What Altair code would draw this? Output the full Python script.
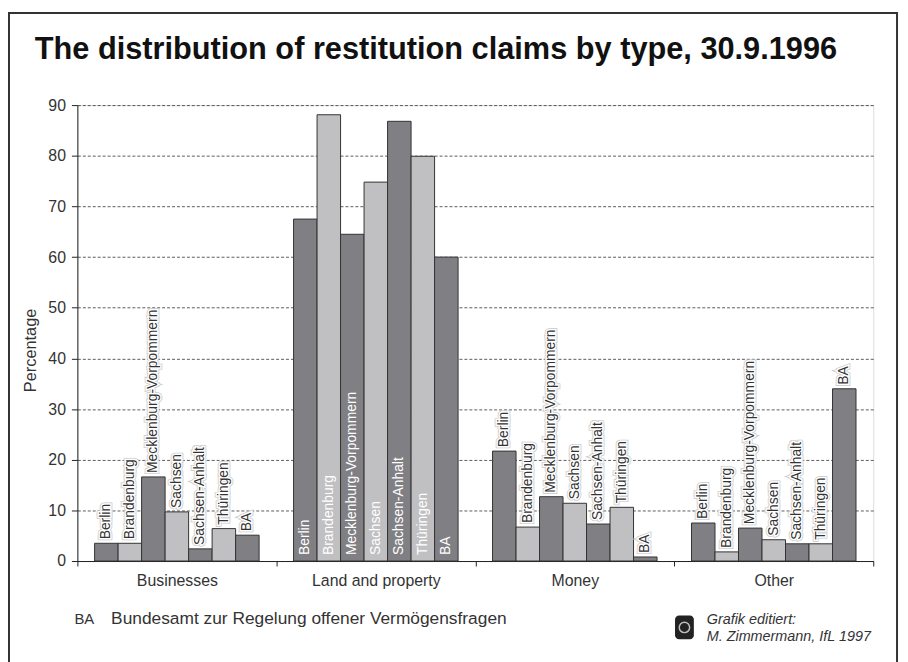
import altair as alt
import pandas as pd

types = ["Businesses", "Land and property", "Money", "Other"]
states = ["Berlin", "Brandenburg", "Mecklenburg-Vorpommern", "Sachsen",
          "Sachsen-Anhalt", "Thüringen", "BA"]
businesses = [3.5, 3.5, 16.6, 9.7, 2.4, 6.4, 5.1]
land = [67.5, 88.1, 64.5, 74.8, 86.8, 79.9, 60.0]
money = [21.7, 6.7, 12.7, 11.4, 7.3, 10.6, 0.8]
other = [7.5, 1.8, 6.5, 4.2, 3.4, 3.4, 34.0]
y_ticks = [0, 10, 20, 30, 40, 50, 60, 70, 80, 90]

title_text = "The distribution of restitution claims by type, 30.9.1996"
foot_abbr = "BA"
foot_text = "Bundesamt zur Regelung offener Vermögensfragen"
credit_lines = ["Grafik editiert:", "M. Zimmermann, IfL 1997"]

DARK = "#808084"
LIGHT = "#c0c0c2"
FONT = "Liberation Sans"

rows = []
for t, vals in zip(types, [businesses, land, money, other]):
    for s, v in zip(states, vals):
        rows.append({"type": t, "state": s, "value": v})
df = pd.DataFrame(rows)
one = pd.DataFrame({"k": [0]})

W, H = 803, 460

x_enc = alt.X("type:N", sort=types,
              scale=alt.Scale(paddingInner=0, paddingOuter=0),
              axis=alt.Axis(title=None, labelAngle=0, tickBand="extent",
                            tickSize=5, domainColor="#222", tickColor="#222",
                            labelFontSize=16, labelColor="#333",
                            labelFont=FONT, labelPadding=7))
xo_enc = alt.XOffset("state:N", sort=states,
                     scale=alt.Scale(paddingInner=0, paddingOuter=0.733))
y_enc = alt.Y("value:Q", scale=alt.Scale(domain=[0, 90], nice=False),
              axis=alt.Axis(values=y_ticks, title="Percentage", grid=True,
                            gridDash=[3, 2], gridColor="#333", gridWidth=0.8,
                            domainColor="#222", tickColor="#222", tickSize=6,
                            labelFontSize=16, labelColor="#333", labelFont=FONT,
                            labelPadding=6, titleFont=FONT, titleFontSize=16.5,
                            titleFontWeight="normal", titleColor="#333",
                            titleX=-39, titleY=247))
color_enc = alt.Color("state:N", sort=states,
                      scale=alt.Scale(domain=states,
                                      range=[DARK, LIGHT, DARK, LIGHT, DARK, LIGHT, DARK]),
                      legend=None)

base = alt.Chart(df)

frame = alt.Chart(one).mark_rect(fill="white", fillOpacity=0, stroke="#333",
                                 strokeWidth=2).encode(
    x=alt.value(-69), x2=alt.value(827), y=alt.value(-93), y2=alt.value(600))

bars = base.mark_bar(stroke="#333", strokeWidth=1).encode(
    x=x_enc, xOffset=xo_enc, y=y_enc, color=color_enc)

lab_x = alt.X("type:N", sort=types)
lab_xo = alt.XOffset("state:N", sort=states)

others = base.transform_filter(alt.datum.type != "Land and property")
halo_outer = others.mark_text(angle=270, align="left", baseline="middle", dx=4,
                              fontSize=14, font=FONT, stroke="#c8c8c8",
                              strokeWidth=4.5, fill="white").encode(
    x=lab_x, xOffset=lab_xo, y=alt.Y("value:Q"), text="state:N")
halo = others.mark_text(angle=270, align="left", baseline="middle", dx=4,
                        fontSize=14, font=FONT, stroke="white", strokeWidth=3,
                        fill="white").encode(
    x=lab_x, xOffset=lab_xo, y=alt.Y("value:Q"), text="state:N")
labels = others.mark_text(angle=270, align="left", baseline="middle", dx=4,
                          fontSize=14, font=FONT, color="#333").encode(
    x=lab_x, xOffset=lab_xo, y=alt.Y("value:Q"), text="state:N")
land_labels = base.transform_filter(alt.datum.type == "Land and property").mark_text(
    angle=270, align="left", baseline="middle", dx=6, fontSize=14, font=FONT,
    color="white").encode(
    x=lab_x, xOffset=lab_xo, y=alt.datum(0), text="state:N")

title = alt.Chart(one).mark_text(align="left", baseline="alphabetic", fontSize=31,
                                 fontWeight="bold", font=FONT, color="#111").encode(
    x=alt.value(-43), y=alt.value(-47), text=alt.value(title_text))
foot1 = alt.Chart(one).mark_text(align="left", baseline="alphabetic", fontSize=15,
                                 font=FONT, color="#333").encode(
    x=alt.value(-3), y=alt.value(524), text=alt.value(foot_abbr))
foot2 = alt.Chart(one).mark_text(align="left", baseline="alphabetic", fontSize=17.5,
                                 font=FONT, color="#333").encode(
    x=alt.value(34), y=alt.value(524), text=alt.value(foot_text))
logo = alt.Chart(one).mark_rect(fill="#222", cornerRadius=4).encode(
    x=alt.value(603), x2=alt.value(622), y=alt.value(515), y2=alt.value(539))
logo_globe = alt.Chart(one).mark_point(shape="circle", size=110, stroke="white",
                                       strokeWidth=1.5, filled=False).encode(
    x=alt.value(612.5), y=alt.value(527))
credit = alt.Chart(one).mark_text(align="left", baseline="alphabetic", fontSize=14.5,
                                  lineHeight=17, font=FONT, fontStyle="italic",
                                  color="#333", text=credit_lines).encode(
    x=alt.value(635), y=alt.value(524))

chart = alt.layer(frame, bars, halo_outer, halo, labels, land_labels, title, foot1,
                  foot2, logo, logo_globe, credit).properties(
    width=W, height=H,
    padding={"left": 70, "top": 95, "right": 27, "bottom": 110},
    autosize="none",
).configure_view(stroke=None).configure(background="white")

chart.save("out.html", embed_options={"renderer": "svg", "actions": False})
